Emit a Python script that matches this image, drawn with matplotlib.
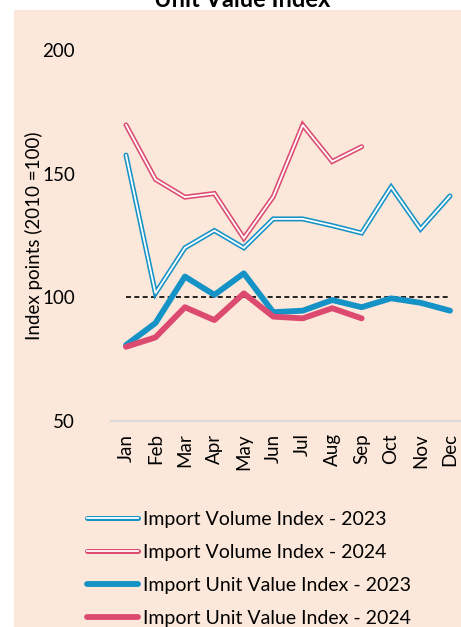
import matplotlib.pyplot as plt
from matplotlib.patches import Rectangle

months = ['Jan', 'Feb', 'Mar', 'Apr', 'May', 'Jun', 'Jul', 'Aug', 'Sep', 'Oct', 'Nov', 'Dec']
vol_2023 = [157.5, 101.6, 120, 127, 120, 131.7, 131.7, 129, 126, 144.6, 127.6, 141]
vol_2024 = [169.7, 147.7, 140.5, 142, 123.9, 140.7, 169.7, 154.9, 160.9]
uv_2023 = [80.7, 89.6, 108.4, 101, 109.7, 94, 94.6, 98.9, 96, 99.6, 97.8, 94.6]
uv_2024 = [80, 83.8, 96, 90.8, 101.6, 92.2, 91.5, 95.6, 91.5]

blue = '#1592C6'
red = '#DC4A70'
bg = '#FCE8DA'

plt.rcParams['font.family'] = ['Lato', 'DejaVu Sans']

fig = plt.figure(figsize=(4.61, 6.27), dpi=100, facecolor='white')
# peach panel, leaves a white strip at top and left
fig.patches.append(Rectangle((14 / 461, 0), 1, 1 - 10 / 627, transform=fig.transFigure,
                             facecolor=bg, edgecolor='none', zorder=-10))
fig.text(242 / 461, 1 - 7 / 627, 'Unit Value Index', ha='center', va='baseline',
         fontsize=17, fontweight='bold')

ax = fig.add_axes([111 / 461, 206 / 627, 350 / 461, 371 / 627])
ax.set_facecolor('none')

x = list(range(12))
ax.plot([0, 11], [100, 100], color='black', ls=(0, (3, 2)), lw=1.2, zorder=2)

# volume series drawn as double lines (coloured outline, white core)
v23o, = ax.plot(x, vol_2023, color=blue, lw=3.6, solid_joinstyle='miter', solid_capstyle='round', zorder=3)
v23i, = ax.plot(x, vol_2023, color='white', lw=1.3, solid_joinstyle='miter', zorder=4)
v24o, = ax.plot(x[:9], vol_2024, color=red, lw=3.6, solid_joinstyle='miter', solid_capstyle='round', zorder=3)
v24i, = ax.plot(x[:9], vol_2024, color='white', lw=1.3, solid_joinstyle='miter', zorder=4)
u23, = ax.plot(x, uv_2023, color=blue, lw=4.2, solid_capstyle='round', zorder=5)
u24, = ax.plot(x[:9], uv_2024, color=red, lw=4.2, solid_capstyle='round', zorder=6)

ax.set_ylim(50, 200)
ax.set_xlim(-15 * 11 / 324, 11 + 11 * 11 / 324)
ax.set_yticks([50, 100, 150, 200])
ax.set_xticks(x)
ax.set_xticklabels(months, rotation=90, fontsize=13.5)
ax.tick_params(axis='y', length=0, pad=26, labelsize=13.5)
ax.tick_params(axis='x', length=0, pad=9)
for s in ['top', 'right', 'left']:
    ax.spines[s].set_visible(False)
ax.spines['bottom'].set_color('#D9D9D9')
ax.spines['bottom'].set_linewidth(1.5)
ax.set_ylabel('Index points (2010 =100)', fontsize=13.5)
ax.yaxis.set_label_coords(-0.194, 0.5)

fig.legend([(v23o, v23i), (v24o, v24i), u23, u24],
           ['Import Volume Index - 2023', 'Import Volume Index - 2024',
            'Import Unit Value Index - 2023', 'Import Unit Value Index - 2024'],
           loc='upper left', bbox_to_anchor=(77 / 461, 1 - 501 / 627), frameon=False,
           borderpad=0, fontsize=14, handlelength=2.65, handletextpad=0.25, labelspacing=0.82)

fig.savefig('out.png', dpi=100, facecolor='white')
